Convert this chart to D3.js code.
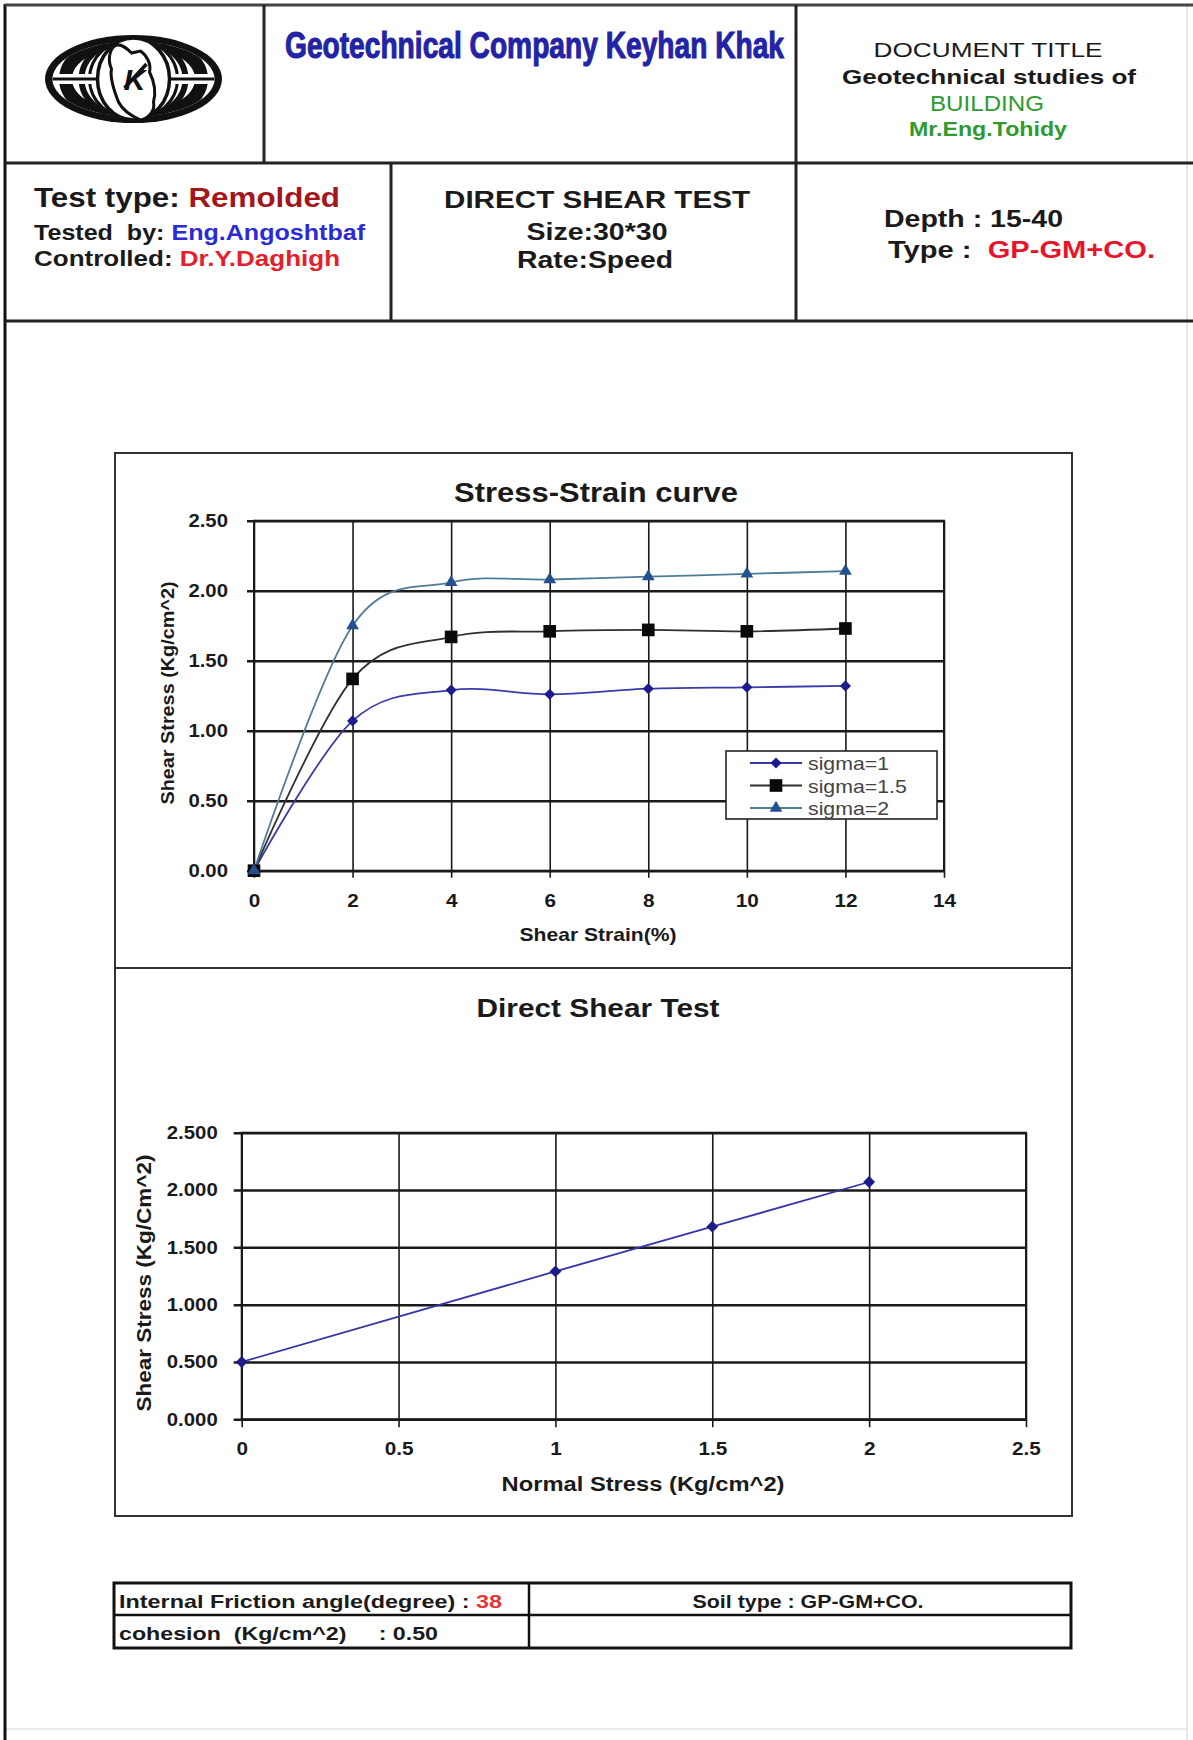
<!DOCTYPE html>
<meta charset="utf-8">
<style>
  body { margin: 0; background: #fff; }
  svg { display: block; font-family: "Liberation Sans", Arial, sans-serif; }
  text { white-space: pre; }
</style>
<svg width="1193" height="1740"></svg>
<script src="https://cdn.jsdelivr.net/npm/d3@7"></script>
<script>

// stress-strain readings (shear strain %, shear stress kg/cm^2)
var strain = [0, 2, 4, 6, 8, 10, 12];
var sigma1 = [0, 1.07, 1.29, 1.26, 1.30, 1.31, 1.32];
var sigma15 = [0, 1.37, 1.67, 1.71, 1.72, 1.71, 1.73];
var sigma2 = [0, 1.75, 2.06, 2.08, 2.10, 2.12, 2.14];
var seriesNames = ["sigma=1", "sigma=1.5", "sigma=2"];

// failure envelope
var normalStress = [0, 1, 1.5, 2];
var peakShear = [0.50, 1.29, 1.68, 2.07];

// ticks
var strainTicks = [0, 2, 4, 6, 8, 10, 12, 14];
var stressTicks = [0, 0.5, 1, 1.5, 2, 2.5];
var stressLabels1 = ["0.00", "0.50", "1.00", "1.50", "2.00", "2.50"];
var stressLabels2 = ["0.000", "0.500", "1.000", "1.500", "2.000", "2.500"];
var normalTicks = [0, 0.5, 1, 1.5, 2, 2.5];
var normalLabels = ["0", "0.5", "1", "1.5", "2", "2.5"];

var svg = d3.select("svg");
var ink = "#1a1a1a";

// text with coloured pieces, optionally squeezed/stretched to a width
function txt(g, x, y, parts, o) {
  o = o || {};
  var t = g.append("text")
      .attr("x", x)
      .attr("y", y)
      .attr("font-size", o.size || 18)
      .attr("font-weight", o.bold ? "bold" : "normal")
      .attr("text-anchor", o.anchor || "start")
      .attr("fill", o.color || ink);
  if (o.family) t.attr("font-family", o.family);
  if (typeof parts == "string") parts = [[parts]];
  parts.forEach(function(p) {
    t.append("tspan").attr("fill", p[1] || null).text(p[0]);
  });
  if (o.width) t.attr("textLength", o.width).attr("lengthAdjust", o.adjust || "spacingAndGlyphs");
  if (o.rotate) t.attr("transform", "rotate(-90," + x + "," + y + ")");
  return t;
}

function widen(sel, k) {
  sel.each(function() {
    var w = this.getComputedTextLength();
    d3.select(this).attr("textLength", w * k).attr("lengthAdjust", "spacingAndGlyphs");
  });
}

function line(x1, y1, x2, y2, w, c) {
  svg.append("line").attr("x1", x1).attr("y1", y1).attr("x2", x2).attr("y2", y2)
      .attr("stroke", c || ink).attr("stroke-width", w);
}

// ---- page frame / header grid ----
line(1187, 5, 1187, 1740, 1.5, "#ddd");
line(5, 1729, 1187, 1729, 1.5, "#e4e4e4");
line(5, 4, 5, 1740, 3, "#111");
line(5, 5, 1193, 5, 3, "#444");
line(5, 163, 1193, 163, 3, "#222");
line(5, 321, 1193, 321, 3, "#222");
line(264, 5, 264, 163, 3, "#222");
line(796, 5, 796, 321, 3, "#222");
line(391, 163, 391, 321, 3, "#222");

// ---- logo ----
var logo = svg.append("g").attr("transform", "translate(133.5,79)");
logo.append("clipPath").attr("id", "inner")
  .append("ellipse").attr("rx", 81).attr("ry", 37.5);
logo.append("ellipse").attr("rx", 88.5).attr("ry", 44).attr("fill", "#111");
logo.append("ellipse").attr("rx", 81).attr("ry", 37.5).attr("fill", "#fff");
var mer = logo.append("g").attr("clip-path", "url(#inner)");
[[68, 13], [52, 6], [44, 3]].forEach(function(m) {
  mer.append("ellipse").attr("rx", m[0]).attr("ry", 40)
      .attr("fill", "none").attr("stroke", "#111").attr("stroke-width", m[1]);
});
mer.append("rect").attr("x", -84).attr("y", -5).attr("width", 168).attr("height", 10).attr("fill", "#fff");
mer.append("rect").attr("x", -84).attr("y", -1.5).attr("width", 168).attr("height", 3).attr("fill", "#111");
logo.append("ellipse").attr("rx", 36).attr("ry", 41)
    .attr("fill", "#fff").attr("stroke", "#111").attr("stroke-width", 3.5);
logo.append("path")
    .attr("d", "M-19,-33C-13,-37 -6,-30 -2,-26L7,-28C13,-24 18,-15 16,-7C20,1 23,12 20,23C22,32 15,39 7,41C-2,37 -11,31 -15,23C-19,13 -24,0 -22,-10C-26,-19 -24,-29 -19,-33Z")
    .attr("fill", "#fff").attr("stroke", "#111").attr("stroke-width", 3);
logo.append("text").attr("x", 1).attr("y", 11).attr("text-anchor", "middle")
    .attr("font-size", 30).attr("font-weight", "bold").attr("font-style", "italic")
    .attr("fill", "#111").text("K");
logo.append("line").attr("x1", -9).attr("y1", 9).attr("x2", 13).attr("y2", -15)
    .attr("stroke", "#111").attr("stroke-width", 3.5);

// ---- header texts ----
// condensed company name: smaller font, stretched vertically
var brand = svg.append("g").attr("transform", "translate(0,58)scale(1,1.3)");
txt(brand, 285, 0, [["Geotechnical Company Keyhan Khak"]],
    {size: 28, bold: true, color: "#2323a6", width: 499})
    .attr("stroke", "#2323a6").attr("stroke-width", 0.8);

txt(svg, 988, 57, "DOCUMENT TITLE", {size: 21, anchor: "middle", width: 229});
txt(svg, 989, 84, "Geotechnical studies of", {size: 21, bold: true, anchor: "middle", width: 294});
txt(svg, 987, 111, "BUILDING", {size: 22, anchor: "middle", color: "#2f9a2f", width: 114});
txt(svg, 988, 136, "Mr.Eng.Tohidy", {size: 21, bold: true, anchor: "middle", color: "#2f9a2f", width: 158});

txt(svg, 34, 207, [["Test type: "], ["Remolded", "#a3161c"]], {size: 27, bold: true, width: 306});
txt(svg, 34, 240, [["Tested  by: "], ["Eng.Angoshtbaf", "#2b2bd6"]], {size: 22, bold: true, width: 331});
txt(svg, 34, 266, [["Controlled: "], ["Dr.Y.Daghigh", "#e4202c"]], {size: 22, bold: true, width: 306});

txt(svg, 597, 208, "DIRECT SHEAR TEST", {size: 24, anchor: "middle", width: 306})
    .attr("font-weight", 600);
txt(svg, 597, 240, "Size:30*30", {size: 23, bold: true, anchor: "middle", width: 141});
txt(svg, 595, 268, "Rate:Speed", {size: 23, bold: true, anchor: "middle", width: 156});

txt(svg, 884, 227, "Depth : 15-40", {size: 24, bold: true, width: 179});
txt(svg, 888, 258, [["Type :  "], ["GP-GM+CO.", "#e8142c"]], {size: 24, bold: true, width: 267});

// ---- chart boxes ----
svg.append("rect").attr("x", 115).attr("y", 453).attr("width", 957).attr("height", 515)
    .attr("fill", "none").attr("stroke", "#333").attr("stroke-width", 2);
svg.append("rect").attr("x", 115).attr("y", 968).attr("width", 957).attr("height", 548)
    .attr("fill", "none").attr("stroke", "#333").attr("stroke-width", 2);

// grid + axes shared by both plots
function frame(p, x, y, o) {
  svg.append("g")
      .attr("transform", "translate(" + (p.left - o.ext) + ",0)")
      .call(d3.axisLeft(y).tickValues(o.yTicks)
          .tickFormat(function(d, i) { return o.yLabels[i]; })
          .tickSize(-(p.right - p.left + o.ext)).tickPadding(o.yPad))
      .call(function(g) {
        g.select(".domain").remove();
        g.attr("font-size", 18).attr("font-family", null).attr("font-weight", "bold").attr("color", ink);
        g.selectAll(".tick line").attr("stroke-width", 2.5);
        widen(g.selectAll(".tick text"), 1.13);
      });

  svg.append("g")
      .attr("transform", "translate(0," + (p.bottom + o.ext) + ")")
      .call(d3.axisBottom(x).tickValues(o.xTicks)
          .tickFormat(function(d, i) { return o.xLabels[i]; })
          .tickSize(-(p.bottom - p.top + o.ext)).tickPadding(o.xPad))
      .call(function(g) {
        g.select(".domain").remove();
        g.attr("font-size", 18).attr("font-family", null).attr("font-weight", "bold").attr("color", ink);
        g.selectAll(".tick line").attr("stroke-width", 1.6);
        widen(g.selectAll(".tick text"), 1.15);
      });

  svg.append("rect").attr("x", p.left).attr("y", p.top)
      .attr("width", p.right - p.left).attr("height", p.bottom - p.top)
      .attr("fill", "none").attr("stroke", ink).attr("stroke-width", 2);
}

// ---- stress-strain chart ----
var p1 = {left: 254, right: 944, top: 520.7, bottom: 870.7};
var x1 = d3.scaleLinear().domain([0, 14]).range([p1.left, p1.right]);
var y1 = d3.scaleLinear().domain([0, 2.5]).range([p1.bottom, p1.top]);

txt(svg, 596, 502, "Stress-Strain curve", {size: 27, bold: true, anchor: "middle", width: 284});
frame(p1, x1, y1, {ext: 7, yPad: 19, xPad: 17,
  yTicks: stressTicks, yLabels: stressLabels1, xTicks: strainTicks,
  xLabels: strainTicks.map(String)});
txt(svg, 598, 941, "Shear Strain(%)", {size: 19, bold: true, anchor: "middle", width: 157});
txt(svg, 174, 693, "Shear Stress (Kg/cm^2)", {size: 18, bold: true, anchor: "middle", width: 223, rotate: true});

var looks = [
  {line: "#3a3aac", mark: "#1c1c8e", shape: d3.symbolSquare, size: 62, rot: 45},
  {line: "#303030", mark: "#0a0a0a", shape: d3.symbolSquare, size: 160, rot: 0},
  {line: "#4f7b96", mark: "#24508f", shape: d3.symbolTriangle, size: 70, rot: 0}
];
var curves = [sigma1, sigma15, sigma2];

var smooth = d3.line()
    .x(function(d, i) { return x1(strain[i]); })
    .y(function(d) { return y1(d); })
    .curve(d3.curveCatmullRom.alpha(0));

curves.forEach(function(vals, k) {
  svg.append("path").datum(vals)
      .attr("d", smooth)
      .attr("fill", "none").attr("stroke", looks[k].line).attr("stroke-width", 1.8);
});
curves.forEach(function(vals, k) {
  svg.append("g").selectAll("path").data(vals).join("path")
      .attr("d", d3.symbol(looks[k].shape, looks[k].size))
      .attr("transform", function(d, i) {
        return "translate(" + x1(strain[i]) + "," + y1(d) + ")rotate(" + looks[k].rot + ")";
      })
      .attr("fill", looks[k].mark);
});

// legend
var lg = svg.append("g").attr("transform", "translate(726,751)");
lg.append("rect").attr("width", 211).attr("height", 68)
    .attr("fill", "#fff").attr("stroke", "#222").attr("stroke-width", 1.6);
seriesNames.forEach(function(name, k) {
  var yy = 12 + k * 22.5;
  lg.append("line").attr("x1", 24).attr("x2", 76).attr("y1", yy).attr("y2", yy)
      .attr("stroke", looks[k].line).attr("stroke-width", 1.8);
  lg.append("path").attr("d", d3.symbol(looks[k].shape, looks[k].size))
      .attr("transform", "translate(50," + yy + ")rotate(" + looks[k].rot + ")")
      .attr("fill", looks[k].mark);
  var t = txt(lg, 82, yy + 7, name, {size: 19, color: "#444"});
  widen(t, 1.12);
});

// ---- direct shear chart ----
var p2 = {left: 241.7, right: 1026, top: 1132.7, bottom: 1419.3};
var x2 = d3.scaleLinear().domain([0, 2.5]).range([p2.left, p2.right]);
var y2 = d3.scaleLinear().domain([0, 2.5]).range([p2.bottom, p2.top]);

txt(svg, 598, 1017, "Direct Shear Test", {size: 26, bold: true, anchor: "middle", width: 243});
frame(p2, x2, y2, {ext: 8, yPad: 16, xPad: 15,
  yTicks: stressTicks, yLabels: stressLabels2, xTicks: normalTicks, xLabels: normalLabels});
txt(svg, 643, 1491, "Normal Stress (Kg/cm^2)", {size: 20, bold: true, anchor: "middle", width: 283});
txt(svg, 151, 1283, "Shear Stress (Kg/Cm^2)", {size: 20, bold: true, anchor: "middle", width: 257, rotate: true});

svg.append("path").datum(peakShear)
    .attr("d", d3.line()
        .x(function(d, i) { return x2(normalStress[i]); })
        .y(function(d) { return y2(d); }))
    .attr("fill", "none").attr("stroke", "#3535a6").attr("stroke-width", 1.8);
svg.append("g").selectAll("path").data(peakShear).join("path")
    .attr("d", d3.symbol(d3.symbolSquare, 70))
    .attr("transform", function(d, i) {
      return "translate(" + x2(normalStress[i]) + "," + y2(d) + ")rotate(45)";
    })
    .attr("fill", "#1c1c8a");

// ---- result table ----
var tb = svg.append("g");
tb.append("rect").attr("x", 114).attr("y", 1583).attr("width", 957).attr("height", 65)
    .attr("fill", "none").attr("stroke", "#111").attr("stroke-width", 3);
tb.append("line").attr("x1", 114).attr("x2", 1071).attr("y1", 1615).attr("y2", 1615)
    .attr("stroke", "#111").attr("stroke-width", 2.5);
tb.append("line").attr("x1", 529).attr("x2", 529).attr("y1", 1583).attr("y2", 1648)
    .attr("stroke", "#111").attr("stroke-width", 2.5);

txt(tb, 119, 1608, [["Internal Friction angle(degree) : "], ["38", "#e43838"]], {size: 19, bold: true, width: 383});
txt(tb, 808, 1608, "Soil type : GP-GM+CO.", {size: 19, bold: true, anchor: "middle", width: 231});
txt(tb, 119, 1640, "cohesion  (Kg/cm^2)     : 0.50", {size: 19, bold: true, width: 319});

</script>
